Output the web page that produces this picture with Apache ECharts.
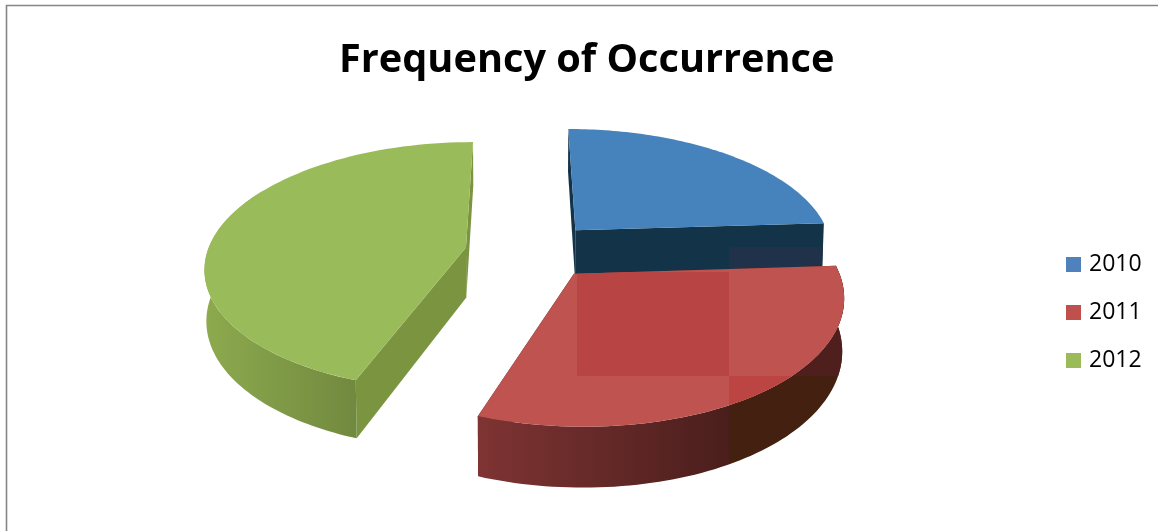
<!DOCTYPE html>
<html><head><meta charset="utf-8">
<style>html,body{margin:0;padding:0;background:#fff}#c{width:1158px;height:531px}</style>
<script src="https://cdn.jsdelivr.net/npm/echarts@6/dist/echarts.min.js"></script>
</head><body><div id="c"></div>
<script>
const title = 'Frequency of Occurrence';
const years = ['2010', '2011', '2012'];
const shares = [24, 31.5, 44.5];

// Look of the exploded 3D pie
const explode = [[0.22, -0.165], [0.203, 0.19], [-0.21, -0.02]];
const view = {cx: 520, cy: 250, rx: 258, ry: 122, persp: 0.15, depth: 50, taper: 0.006};
const looks = [
  {top: '#4682BC', wall: '#133448'},
  {top: '#BE5350', wall: '#5A2424', outer: ['#7E3433', '#4A1E1C']},
  {top: '#9ABB59', wall: '#7B9440', outer: ['#8DAA4E', '#71893F']}
];
const legendColors = ['#4F81BD', '#C0504D', '#9BBB59'];

const total = shares.reduce((a, b) => a + b, 0);
function project(u, v, h) {
  const w = 1 - view.persp * v;
  return [view.cx + view.rx * u / w * (1 - view.taper * h), view.cy + view.ry * v / w + h * view.depth / w];
}
function sliceGeometry(i) {
  const before = shares.slice(0, i).reduce((a, b) => a + b, 0);
  const t0 = before / total * 2 * Math.PI, t1 = (before + shares[i]) / total * 2 * Math.PI;
  const [ax, ay] = explode[i];
  const rim = (t, h) => project(ax + Math.sin(t), ay - Math.cos(t), h);
  const arc = (a, b, h) => { const p = []; for (let k = 0; k <= 80; k++) p.push(rim(a + (b - a) * k / 80, h)); return p; };
  return {t0, t1, ax, ay, rim, arc};
}
function poly(points, fill, clip) {
  const el = {type: 'polygon', shape: {points}, style: {fill}, silent: true};
  if (clip) el.clipPath = {type: 'rect', shape: {x: clip[0], y: clip[1], width: clip[2], height: clip[3]}};
  return el;
}
function renderSlice(i) {
  return function () {
    const g = sliceGeometry(i), L = looks[i], kids = [];
    const apexT = project(g.ax, g.ay, 0), apexB = project(g.ax, g.ay, 1);
    [g.t0, g.t1].forEach(t => kids.push(poly([apexT, g.rim(t, 0), g.rim(t, 1), apexB], L.wall)));
    if (i === 0) {
      kids.push(poly([apexT, g.rim(g.t1, 0), g.rim(g.t1, 1), apexB], '#20324A', [729, 247, 120, 40]));
    }
    const a = Math.max(g.t0, Math.PI / 3), b = Math.min(g.t1, 5 * Math.PI / 3);
    if (L.outer && b > a) {
      const pts = g.arc(a, b, 0).concat(g.arc(a, b, 1).reverse());
      const xs = pts.map(p => p[0]);
      const x0 = Math.min(...xs), x1 = Math.max(...xs);
      const cut = i === 1 ? (729 - x0) / (x1 - x0) : 1;
      const stops = i === 1
        ? [{offset: 0, color: L.outer[0]}, {offset: cut, color: L.outer[1]}, {offset: cut, color: '#43200F'}, {offset: 1, color: '#43200F'}]
        : [{offset: 0, color: L.outer[0]}, {offset: 1, color: L.outer[1]}];
      kids.push(poly(pts, {type: 'linear', x: x0, y: 0, x2: x1, y2: 0, global: true, colorStops: stops}));
      if (i === 1) kids.push(poly(pts, '#4F1F1E', [729, 247, 130, 129]));
    }
    const face = [apexT].concat(g.arc(g.t0, g.t1, 0));
    kids.push(poly(face, L.top));
    if (i === 1) {
      kids.push(poly(face, '#B84543', [577, 272, 152, 104]));
      kids.push(poly(face, '#BC4543', [729, 376, 130, 120]));
    }
    return {type: 'group', children: kids};
  };
}
const series = years.map((y, i) => ({
  name: y, type: 'custom', coordinateSystem: 'none',
  data: [[shares[i]]], z: [2, 4, 3][i],
  itemStyle: {color: legendColors[i]},
  renderItem: renderSlice(i), animation: false
}));

const chart = echarts.init(document.getElementById('c'), null, {renderer: 'canvas'});
chart.setOption({
  backgroundColor: '#fff',
  animation: false,
  title: {text: title, left: 334, top: 36,
    textStyle: {fontFamily: '"Open Sans"', fontWeight: 'bold', fontSize: 39.7, color: '#000'}},
  legend: {data: years, left: 1061, top: 248, orient: 'vertical', icon: 'rect', itemWidth: 15, itemHeight: 15, itemGap: 25,
    selectedMode: false, textStyle: {fontFamily: '"Open Sans"', fontSize: 23, color: '#000', padding: [0, 0, 0, 3]}},
  graphic: [
    {type: 'polyline', silent: true, z: 1, shape: {points: [[6.5, 531], [6.5, 5.5], [1158, 5.5]]}, style: {stroke: '#868686', lineWidth: 1.6, fill: null}}
  ],
  series
});
</script></body></html>
